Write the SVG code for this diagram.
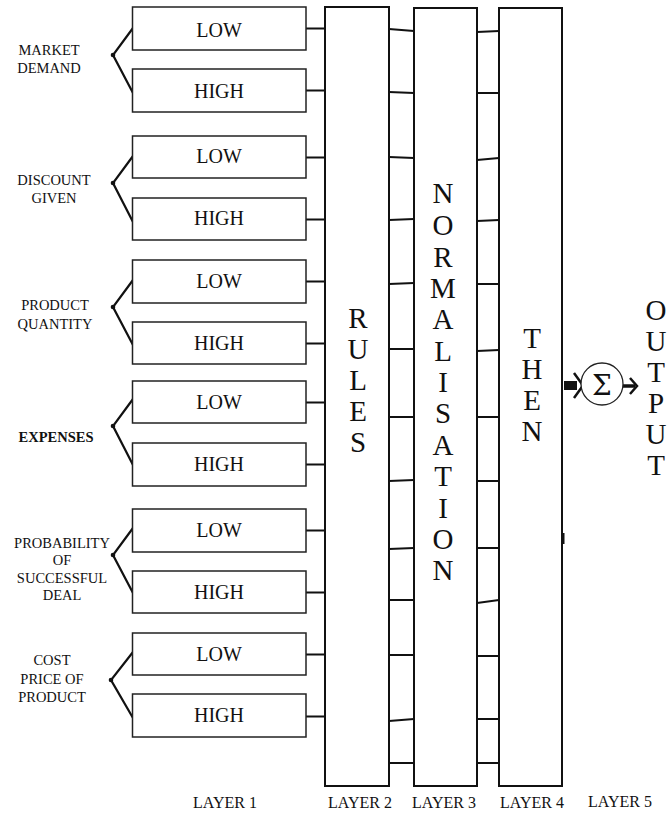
<svg xmlns="http://www.w3.org/2000/svg" width="667" height="814" viewBox="0 0 667 814">
<style>
text{font-family:"Liberation Serif","Times New Roman",serif;fill:#111}
.lbl{font-size:14.5px;text-anchor:middle}
.box{fill:#fff;stroke:#222;stroke-width:1.5}
.col{fill:#fff;stroke:#111;stroke-width:2}
.bt{font-size:20px;text-anchor:middle}
.big{font-size:29px;text-anchor:middle}
.lay{font-size:16px;text-anchor:middle}
.cn{stroke:#111;stroke-width:2;fill:none}
.br{stroke:#111;stroke-width:2.2;fill:none}
</style>
<rect width="667" height="814" fill="#fff"/>
<g id="connectors">
<!-- layer1 to rules -->
<path class="cn" d="M306 28.5H325M306 90.5H325M306 157.5H325M306 219.5H325M306 281.5H325M306 343.5H325M306 402.5H325M306 464.5H325M306 530.5H325M306 592.5H325M306 654.5H325M306 716.5H325"/>
<!-- rules to normalisation -->
<path class="cn" d="M389 29L414 31M389 92L414 93M389 157L414 158M389 220L414 219M389 284L414 283M389 349L414 349M389 417L414 417M389 481L414 480M389 549L414 548M389 600L414 600M389 655L414 655M389 721L414 719M389 763L414 763"/>
<!-- normalisation to then -->
<path class="cn" d="M477 32L499 31M477 93L499 93M477 160L499 158M477 221L499 220M477 284L499 284M477 351L499 350M477 417L499 417M477 481L499 481M477 548L499 548M477 603L499 600M477 656L499 656M477 719L499 719M477 763L499 763"/>
<!-- brackets -->
<g id="brackets">
<path class="br" d="M133 28L113 55L133 93"/><circle cx="113" cy="55" r="2.3" fill="#111"/>
<path class="br" d="M133 156L113 183L133 222"/><circle cx="113" cy="183" r="2.3" fill="#111"/>
<path class="br" d="M133 280L113 307L133 345"/><circle cx="113" cy="307" r="2.3" fill="#111"/>
<path class="br" d="M133 399L113 426L133 465"/><circle cx="113" cy="426" r="2.3" fill="#111"/>
<path class="br" d="M133 528L113 555L133 593"/><circle cx="113" cy="555" r="2.3" fill="#111"/>
<path class="br" d="M133 652L111 680L133 718"/><circle cx="111" cy="680" r="2.3" fill="#111"/>
</g>
<!-- then to sum -->
<rect x="564" y="381" width="13" height="9" fill="#111"/>
<path d="M574 373L583 385.5L574 398" stroke="#111" stroke-width="2.5" fill="none"/>
<!-- sum to output -->
<path d="M623 386H635" stroke="#111" stroke-width="3.5"/>
<path d="M630 378L637 386L630 394" stroke="#111" stroke-width="2.5" fill="none"/>
<rect x="561.5" y="533" width="3" height="11" fill="#111"/>
</g>
<g id="labels">
<text class="lbl" x="49" y="55">MARKET</text><text class="lbl" x="49" y="73">DEMAND</text>
<text class="lbl" x="54" y="185">DISCOUNT</text><text class="lbl" x="54" y="203">GIVEN</text>
<text class="lbl" x="55" y="310">PRODUCT</text><text class="lbl" x="55" y="329">QUANTITY</text>
<text class="lbl" x="56" y="442" font-weight="bold">EXPENSES</text>
<text class="lbl" x="62" y="548">PROBABILITY</text><text class="lbl" x="62" y="565">OF</text><text class="lbl" x="62" y="583">SUCCESSFUL</text><text class="lbl" x="62" y="600">DEAL</text>
<text class="lbl" x="52" y="665">COST</text><text class="lbl" x="52" y="684">PRICE OF</text><text class="lbl" x="52" y="702">PRODUCT</text>
</g>
<g id="layer1">
<g id="md-low"><rect class="box" x="132.5" y="7" width="173.5" height="43"/><text class="bt" x="219" y="36.5">LOW</text></g>
<g id="md-high"><rect class="box" x="132.5" y="69" width="173.5" height="43"/><text class="bt" x="219" y="98">HIGH</text></g>
<g id="dg-low"><rect class="box" x="132.5" y="136" width="173.5" height="42"/><text class="bt" x="219" y="163">LOW</text></g>
<g id="dg-high"><rect class="box" x="132.5" y="198" width="173.5" height="42"/><text class="bt" x="219" y="225">HIGH</text></g>
<g id="pq-low"><rect class="box" x="132.5" y="260" width="173.5" height="43"/><text class="bt" x="219" y="288">LOW</text></g>
<g id="pq-high"><rect class="box" x="132.5" y="322" width="173.5" height="42"/><text class="bt" x="219" y="349.5">HIGH</text></g>
<g id="ex-low"><rect class="box" x="132.5" y="381" width="173.5" height="42"/><text class="bt" x="219" y="408.5">LOW</text></g>
<g id="ex-high"><rect class="box" x="132.5" y="443" width="173.5" height="43"/><text class="bt" x="219" y="471">HIGH</text></g>
<g id="pr-low"><rect class="box" x="132.5" y="509" width="173.5" height="43"/><text class="bt" x="219" y="537">LOW</text></g>
<g id="pr-high"><rect class="box" x="132.5" y="571" width="173.5" height="42"/><text class="bt" x="219" y="598.5">HIGH</text></g>
<g id="cp-low"><rect class="box" x="132.5" y="633" width="173.5" height="42"/><text class="bt" x="219" y="660.5">LOW</text></g>
<g id="cp-high"><rect class="box" x="132.5" y="694" width="173.5" height="43"/><text class="bt" x="219" y="722">HIGH</text></g>
</g>
<g id="rules">
<rect class="col" x="325" y="7" width="64" height="779"/>
<text class="big" x="358"><tspan x="358" y="328">R</tspan><tspan x="358" y="359">U</tspan><tspan x="358" y="390">L</tspan><tspan x="358" y="421">E</tspan><tspan x="358" y="452">S</tspan></text>
</g>
<g id="normalisation">
<rect class="col" x="414" y="8" width="63" height="778"/>
<text class="big" x="443"><tspan x="443" y="203">N</tspan><tspan x="443" y="235">O</tspan><tspan x="443" y="267">R</tspan><tspan x="443" y="298">M</tspan><tspan x="443" y="329">A</tspan><tspan x="443" y="361">L</tspan><tspan x="443" y="392">I</tspan><tspan x="443" y="423">S</tspan><tspan x="443" y="455">A</tspan><tspan x="443" y="486">T</tspan><tspan x="443" y="518">I</tspan><tspan x="443" y="549">O</tspan><tspan x="443" y="580">N</tspan></text>
</g>
<g id="then">
<rect class="col" x="499" y="8" width="63" height="778"/>
<text class="big" x="532"><tspan x="532" y="348">T</tspan><tspan x="532" y="379">H</tspan><tspan x="532" y="410">E</tspan><tspan x="532" y="441">N</tspan></text>
</g>
<g id="sum">
<circle cx="602" cy="384" r="21" fill="#fff" stroke="#222" stroke-width="1.3"/>
<text x="602" y="395" font-size="28" text-anchor="middle" style="font-family:'DejaVu Serif','Liberation Serif',serif">Σ</text>
</g>
<g id="output">
<text class="big" x="656"><tspan x="656" y="320">O</tspan><tspan x="656" y="351">U</tspan><tspan x="656" y="382">T</tspan><tspan x="656" y="413">P</tspan><tspan x="656" y="444">U</tspan><tspan x="656" y="475">T</tspan></text>
</g>
<g id="layer-labels">
<text class="lay" x="225" y="808">LAYER 1</text>
<text class="lay" x="360" y="808">LAYER 2</text>
<text class="lay" x="444" y="808">LAYER 3</text>
<text class="lay" x="532" y="808">LAYER 4</text>
<text class="lay" x="620" y="807">LAYER 5</text>
</g>
</svg>
